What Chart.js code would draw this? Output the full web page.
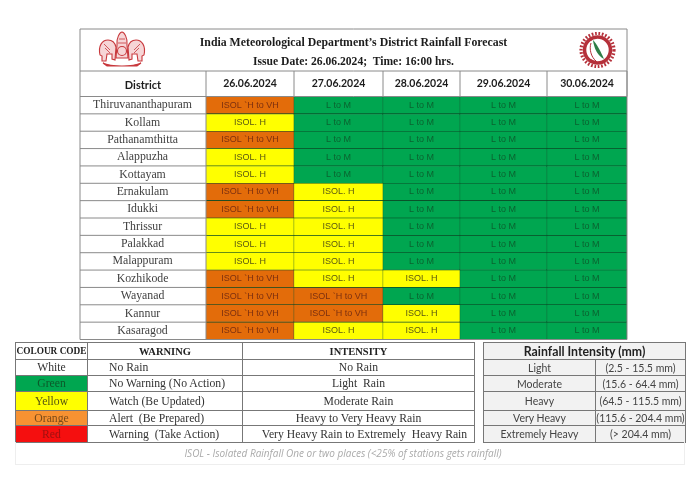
<!DOCTYPE html>
<html>
<head>
<meta charset="utf-8">
<script src="https://cdn.jsdelivr.net/npm/chart.js@4"></script>
<style>
  body { margin: 0; background: #fff; width: 696px; height: 478px; overflow: hidden; position: relative; filter: blur(0.3px); }
  canvas { position: absolute; left: 0; top: 0; }
  .line { position: absolute; font-family: "Liberation Serif", serif; font-weight: bold; color: #1c1c1c; white-space: nowrap; text-align: center; }
  table { position: absolute; border-collapse: collapse; table-layout: fixed; }
  td { padding: 0; text-align: center; white-space: nowrap; overflow: hidden; }
  #warn { left: 15px; top: 342px; width: 459px; font-family: "Liberation Serif", serif; font-size: 11.7px; color: #333; }
  #warn td { border: 1px solid #777; }
  #warn td:nth-child(2):not(.head) { text-align: left; padding-left: 21px; }
  #warn td.head { font-weight: bold; font-size: 10.5px; color: #222; }
  #warn td.code { font-size: 9.3px; }
  #mm { left: 483px; top: 342px; width: 202px; font-family: Lato, sans-serif; font-size: 10.5px; color: #444; background: #f2f2f2; }
  #mm td { border: 1px solid #777; }
  #mm td.head { font-family: Lato, sans-serif; font-weight: bold; font-size: 12.3px; color: #222; }
  #note { position: absolute; left: 15px; top: 442px; width: 670px; height: 23px; box-sizing: border-box; border: 1px solid #eee; border-top: 0; padding-right: 14px; text-align: center; line-height: 22px; font-family: "Open Sans", sans-serif; font-style: italic; font-size: 10px; color: #aaa; }
</style>
</head>
<body>
<canvas id="chartRainfall" width="696" height="478"></canvas>
<div class="line" style="left:80px;width:547px;top:35px;font-size:11.8px">India Meteorological Department’s District Rainfall Forecast</div>
<div class="line" style="left:80px;width:547px;top:55px;font-size:11.6px">Issue Date: 26.06.2024;&nbsp; Time: 16:00 hrs.</div>
<div class="line" style="left:80px;width:126px;top:78px;font-family:Lato,sans-serif;font-size:11px">District</div>

<svg style="position:absolute;left:95px;top:30px" width="54" height="38" viewBox="0 0 54 38" fill="#f6d5d6" stroke="#c8383c" stroke-width="1.1">
  <path d="M5 25 C3 16 7 10 13 10 C17 10 20 13 21 17 L20 30 L17 29 L17 24 L12 24 L11 31 L7 31 L7 26 Z"/>
  <path d="M49 25 C51 16 47 10 41 10 C37 10 34 13 33 17 L34 30 L37 29 L37 24 L42 24 L43 31 L47 31 L47 26 Z"/>
  <path d="M22 15 C21 8 25 2 27 2 C29 2 33 8 32 15 L33 28 L21 28 Z"/>
  <path d="M24 9 L30 9 M23 13 L31 13 M9 14 L15 20 M45 14 L39 20 M10 18 L15 23 M44 18 L39 23" stroke-width="0.8"/>
  <circle cx="27" cy="21" r="4.5"/>
  <path d="M8 33 C16 37 38 37 46 33 L42 36 L12 36 Z" fill="#c8383c"/>
</svg>
<svg style="position:absolute;left:579px;top:31px" width="37" height="38" viewBox="0 0 37 38" fill="none">
  <circle cx="18.5" cy="19" r="16.5" stroke="#b5303a" stroke-width="3.2" stroke-dasharray="1.7 1.7"/>
  <circle cx="18.5" cy="19" r="13" fill="#fff" stroke="#b5303a" stroke-width="3.6"/>
  <path d="M14 9 C18 13 22 21 25 28 C19 25 15 18 14 9 Z" fill="#2e7d46"/>
  <path d="M12 12 C10 18 12 26 17 30" stroke="#b5303a" stroke-width="1"/>
</svg>

<table id="warn">
  <colgroup><col style="width:72px"><col style="width:155px"><col style="width:232px"></colgroup>
  <tr style="height:17px"><td class="head code">COLOUR CODE</td><td class="head" style="text-align:center">WARNING</td><td class="head">INTENSITY</td></tr>
  <tr style="height:16px"><td>White</td><td>No Rain</td><td>No Rain</td></tr>
  <tr style="height:16px"><td style="background:#00a650;color:#0b5a2a">Green</td><td>No Warning (No Action)</td><td>Light&nbsp; Rain</td></tr>
  <tr style="height:19px"><td style="background:#ffff00;color:#555510">Yellow</td><td>Watch (Be Updated)</td><td>Moderate Rain</td></tr>
  <tr style="height:15px"><td style="background:#f79232;color:#7a4a18">Orange</td><td>Alert&nbsp; (Be Prepared)</td><td>Heavy to Very Heavy Rain</td></tr>
  <tr style="height:17px"><td style="background:#f50f0f;color:#a01010">Red</td><td>Warning&nbsp; (Take Action)</td><td style="padding-left:12px">Very Heavy Rain to Extremely&nbsp; Heavy Rain</td></tr>
</table>

<table id="mm">
  <colgroup><col style="width:112px"><col style="width:90px"></colgroup>
  <tr style="height:17px"><td class="head" colspan="2">Rainfall Intensity (mm)</td></tr>
  <tr style="height:16px"><td>Light</td><td>(2.5 - 15.5 mm)</td></tr>
  <tr style="height:16px"><td>Moderate</td><td>(15.6 - 64.4 mm)</td></tr>
  <tr style="height:19px"><td>Heavy</td><td>(64.5 - 115.5 mm)</td></tr>
  <tr style="height:15px"><td>Very Heavy</td><td>(115.6 - 204.4 mm)</td></tr>
  <tr style="height:17px"><td>Extremely Heavy</td><td>(&gt; 204.4 mm)</td></tr>
</table>
<div id="note">ISOL - Isolated Rainfall One or two places (&lt;25% of stations gets rainfall)</div>

<script>
const districts = ['Thiruvananthapuram', 'Kollam', 'Pathanamthitta', 'Alappuzha', 'Kottayam', 'Ernakulam', 'Idukki', 'Thrissur', 'Palakkad', 'Malappuram', 'Kozhikode', 'Wayanad', 'Kannur', 'Kasaragod'];
const dates = ['26.06.2024', '27.06.2024', '28.06.2024', '29.06.2024', '30.06.2024'];

const LM = 'L to M';
const H = 'ISOL. H';
const HVH = 'ISOL `H to VH';

const day26 = [HVH, H, HVH, H, H, HVH, HVH, H, H, H, HVH, HVH, HVH, HVH];
const day27 = [LM, LM, LM, LM, LM, H, H, H, H, H, H, HVH, HVH, H];
const day28 = [LM, LM, LM, LM, LM, LM, LM, LM, LM, LM, H, LM, H, H];
const day29 = [LM, LM, LM, LM, LM, LM, LM, LM, LM, LM, LM, LM, LM, LM];
const day30 = [LM, LM, LM, LM, LM, LM, LM, LM, LM, LM, LM, LM, LM, LM];
const forecast = [day26, day27, day28, day29, day30];

// the printed table has uneven column widths
const columnSpans = [88, 89, 77, 87, 80];

const cellColors = { [LM]: '#00a650', [H]: '#ffff00', [HVH]: '#e36c0a' };
const textColors = { [LM]: '#0a6330', [H]: '#5a5812', [HVH]: '#7d3010' };

const columnEdges = [0];
columnSpans.forEach((span, i) => columnEdges.push(columnEdges[i] + span));
const columnCenters = columnSpans.map((span, i) => columnEdges[i] + span / 2);

const tablePlugin = {
    id: 'tablePlugin',
    afterDatasetsDraw(chart) {
        const { ctx, scales: { x, y }, chartArea } = chart;
        ctx.save();
        // text inside the cells
        ctx.font = '9px "Liberation Sans", sans-serif';
        ctx.textAlign = 'center';
        ctx.textBaseline = 'middle';
        forecast.forEach((values, d) => {
            chart.getDatasetMeta(d).data.forEach((bar, r) => {
                ctx.fillStyle = textColors[values[r]];
                ctx.fillText(values[r], x.getPixelForValue(columnCenters[d]), bar.y);
            });
        });
        // frame and rules around the labels
        const frameLeft = y.left;
        ctx.strokeStyle = '#8a8a8a';
        ctx.lineWidth = 1;
        ctx.beginPath();
        ctx.rect(frameLeft, 29, chartArea.right - frameLeft, chartArea.bottom - 29);
        ctx.moveTo(frameLeft, x.top);
        ctx.lineTo(chartArea.right, x.top);
        ctx.moveTo(frameLeft, chartArea.top);
        ctx.lineTo(chartArea.right, chartArea.top);
        districts.forEach((name, r) => {
            const rowEdge = y.getPixelForValue(r) + (y.getPixelForValue(1) - y.getPixelForValue(0)) / 2;
            ctx.moveTo(frameLeft, rowEdge);
            ctx.lineTo(chartArea.left, rowEdge);
        });
        columnEdges.forEach((edge) => {
            const px = x.getPixelForValue(edge);
            ctx.moveTo(px, x.top);
            ctx.lineTo(px, chartArea.top);
        });
        ctx.moveTo(chartArea.left, chartArea.top);
        ctx.lineTo(chartArea.left, chartArea.bottom);
        ctx.stroke();
        ctx.restore();
    },
};

new Chart(document.getElementById('chartRainfall'), {
    type: 'bar',
    data: {
        labels: districts,
        datasets: forecast.map((values, d) => ({
            label: dates[d],
            data: values.map(() => columnSpans[d]),
            backgroundColor: values.map((v) => cellColors[v]),
            borderColor: '#0b4a26',
            borderWidth: 0.6,
            categoryPercentage: 1,
            barPercentage: 1,
        })),
    },
    options: {
        indexAxis: 'y',
        responsive: false,
        animation: false,
        devicePixelRatio: 1,
        layout: { padding: { left: 80, right: 69, top: 71, bottom: 138.5 } },
        plugins: { legend: { display: false }, tooltip: { enabled: false } },
        scales: {
            x: {
                stacked: true,
                position: 'top',
                min: 0,
                max: columnEdges[columnEdges.length - 1],
                grid: { display: false },
                border: { display: false },
                afterBuildTicks: (scale) => { scale.ticks = columnCenters.map((value) => ({ value })); },
                afterFit: (scale) => { scale.height = 25.5; },
                ticks: {
                    autoSkip: false,
                    maxRotation: 0,
                    padding: -1,
                    color: '#1c1c1c',
                    font: { family: 'Lato', weight: 'bold', size: 10.5 },
                    callback: (value, i) => dates[i],
                },
            },
            y: {
                stacked: true,
                grid: { display: false },
                border: { display: false },
                afterFit: (scale) => { scale.width = 126; },
                ticks: {
                    autoSkip: false,
                    crossAlign: 'center',
                    padding: 6,
                    color: '#3f3f3f',
                    font: { family: 'Liberation Serif', size: 11.8 },
                },
            },
        },
    },
    plugins: [tablePlugin],
});
</script>
</body>
</html>
